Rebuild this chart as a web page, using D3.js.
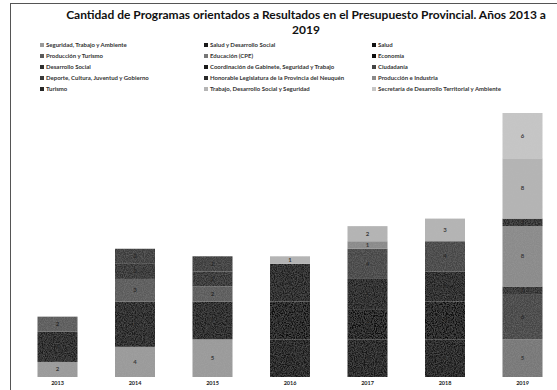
<!DOCTYPE html>
<html><head><meta charset="utf-8">
<script src="https://cdn.jsdelivr.net/npm/d3@7"></script>
<style>html,body{margin:0;padding:0;background:#fff;}svg{display:block;}</style>
</head><body>
<svg id="chart" width="557" height="390"></svg>
<script>
const years = ["2013","2014","2015","2016","2017","2018","2019"];
const seriesNames = [
  "Seguridad, Trabajo y Ambiente",
  "Salud y Desarrollo Social",
  "Salud",
  "Producción y Turismo",
  "Educación (CPE)",
  "Economía",
  "Desarrollo Social",
  "Coordinación de Gabinete, Seguridad y Trabajo",
  "Ciudadanía",
  "Deporte, Cultura, Juventud y Gobierno",
  "Honorable Legislatura de la Provincia del Neuquén",
  "Producción e Industria",
  "Turismo",
  "Trabajo, Desarrollo Social y Seguridad",
  "Secretaría de Desarrollo Territorial y Ambiente"
];
// values per series, one per year (2013..2019)
const seguridadTrabajoAmbiente = [2,4,5,0,0,0,0];
const saludDesarrolloSocial    = [4,6,5,0,0,0,0];
const salud                    = [0,0,0,5,5,5,0];
const produccionTurismo        = [2,3,2,0,0,0,0];
const educacionCPE             = [0,0,0,0,0,0,5];
const economia                 = [0,0,0,5,4,5,0];
const desarrolloSocial         = [0,2,2,0,0,0,0];
const coordinacionGabinete     = [0,0,0,5,4,4,0];
const ciudadania               = [0,0,0,0,4,4,6];
const deporteCultura           = [0,2,2,0,0,0,0];
const legislatura              = [0,0,0,0,0,0,1];
const produccionIndustria      = [0,0,0,0,1,0,8];
const turismo                  = [0,0,0,0,0,0,1];
const trabajoDesarrolloSeg     = [0,0,0,1,2,3,8];
const secretariaTerritorial    = [0,0,0,0,0,0,6];
const seriesValues = [seguridadTrabajoAmbiente, saludDesarrolloSocial, salud, produccionTurismo,
  educacionCPE, economia, desarrolloSocial, coordinacionGabinete, ciudadania, deporteCultura,
  legislatura, produccionIndustria, turismo, trabajoDesarrolloSeg, secretariaTerritorial];
const seriesColors = ["#9a9a9a","#1a1a1a","#121212","#5a5a5a","#777777","#0e0e0e","#2e2e2e",
  "#1a1a1a","#444444","#3a3a3a","#2a2a2a","#8a8a8a","#262626","#b4b4b4","#c6c6c6"];

const table = years.map((y,i)=>{const o={year:y}; seriesNames.forEach((s,j)=>o[s]=seriesValues[j][i]); return o;});
const stack = d3.stack().keys(seriesNames)(table);

const svg = d3.select("#chart");
const font = "Lato, 'Open Sans', 'DejaVu Sans', sans-serif";

// very subtle scan-like grain
const defs = svg.append("defs");
const f = defs.append("filter").attr("id","grain").attr("x",0).attr("y",0).attr("width",1).attr("height",1);
f.append("feTurbulence").attr("type","fractalNoise").attr("baseFrequency",0.9).attr("numOctaves",2).attr("seed",3).attr("result","noise");
f.append("feColorMatrix").attr("in","noise").attr("type","matrix")
  .attr("values","0 0 0 0 0.5  0 0 0 0 0.5  0 0 0 0 0.5  0.3 0 0 0 -0.1").attr("result","n2");
f.append("feComposite").attr("in","n2").attr("in2","SourceGraphic").attr("operator","in").attr("result","n3");
f.append("feBlend").attr("in","n3").attr("in2","SourceGraphic").attr("mode","normal");

// frame
svg.append("rect").attr("x",10.5).attr("y",3.5).attr("width",560).attr("height",400)
  .attr("fill","none").attr("stroke","#555").attr("stroke-width",1);

// title
const title = svg.append("text").attr("text-anchor","middle").attr("font-family",font)
  .attr("font-weight","bold").attr("font-size",12).attr("fill","#111");
title.append("tspan").attr("x",306).attr("y",19).text("Cantidad de Programas orientados a Resultados en el Presupuesto Provincial. Años 2013 a");
title.append("tspan").attr("x",306).attr("y",34).text("2019");

// legend
const colX = [40,204,372];
const legend = svg.append("g").attr("font-family",font).attr("font-size",6).attr("font-weight","bold").attr("fill","#333");
seriesNames.forEach((s,i)=>{
  const r = Math.floor(i/3), c = i%3;
  const g = legend.append("g").attr("transform",`translate(${colX[c]},${47+r*11})`);
  g.append("rect").attr("x",0).attr("y",-4).attr("width",4).attr("height",4).attr("fill",seriesColors[i]);
  g.append("text").attr("x",6).attr("y",0).text(s);
});

const x = d3.scaleBand().domain(years).range([18.75,561.25]).paddingInner(0.484).paddingOuter(0.242);
const y = d3.scaleLinear().domain([0,35]).range([377,113]);

const bars = svg.append("g").attr("filter","url(#grain)");
const layers = bars.selectAll("g").data(stack).join("g").attr("fill",(d,i)=>seriesColors[i]);
layers.selectAll("rect").data(d=>d.filter(p=>p[1]>p[0])).join("rect")
  .attr("x",d=>x(d.data.year)).attr("width",x.bandwidth())
  .attr("y",d=>y(d[1])).attr("height",d=>y(d[0])-y(d[1]));

const labels = svg.append("g").attr("font-family",font).attr("font-size",6).attr("font-weight","bold").attr("text-anchor","middle");
stack.forEach((layer,i)=>{
  layer.filter(p=>p[1]>p[0]).forEach(p=>{
    const l = d3.hsl(seriesColors[i]).l;
    labels.append("text").attr("x",x(p.data.year)+x.bandwidth()/2).attr("y",(y(p[0])+y(p[1]))/2+2)
      .attr("fill", l>0.45 ? "#3a3a3a" : "#2a2a2a").text(p[1]-p[0]);
  });
});

const xAxis = svg.append("g").attr("transform","translate(0,377)").call(d3.axisBottom(x).tickSize(0).tickPadding(4));
xAxis.select(".domain").remove();
xAxis.selectAll("text").attr("font-family",font).attr("font-size",5.5).attr("font-weight","bold").attr("fill","#222");
</script>
</body></html>
